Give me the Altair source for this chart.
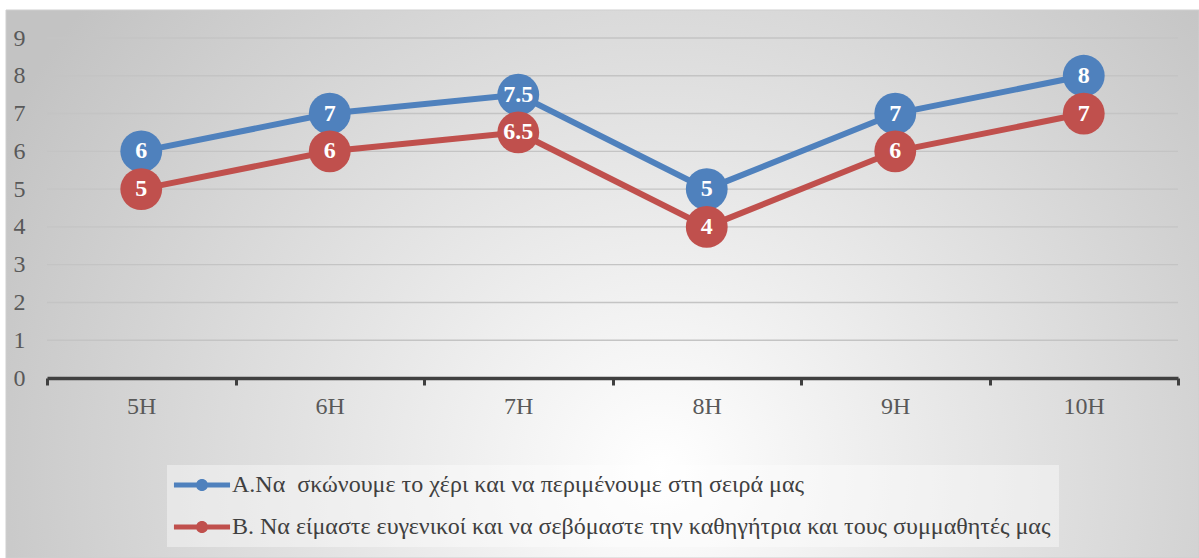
import altair as alt
import pandas as pd

# ---- data ----
categories = ["5H", "6H", "7H", "8H", "9H", "10H"]
series_names = [
    "A.Να\u00a0 σκώνουμε το χέρι και να περιμένουμε στη σειρά μας",
    "B. Να είμαστε ευγενικοί και να σεβόμαστε την καθηγήτρια και τους συμμαθητές μας",
]
values_a = [6, 7, 7.5, 5, 7, 8]
values_b = [5, 6, 6.5, 4, 6, 7]
y_ticks = [0, 1, 2, 3, 4, 5, 6, 7, 8, 9]
grid_values = [1, 2, 3, 4, 5, 6, 7, 8, 9]
series_colors = ["#4F81BD", "#C0504D"]

rows = []
for name, vals in zip(series_names, [values_a, values_b]):
    for cat, v in zip(categories, vals):
        rows.append({"class": cat, "series": name, "value": v})
df = pd.DataFrame(rows)

# ---- layout ----
W, H = 1131, 340
PAD_LEFT, PAD_TOP = 47, 38
FONT = "Liberation Serif"
LABEL_GREY = "#595959"

# legend glyph: a short thick line with a dot in the middle
LEGEND_GLYPH = (
    "M-2.55,-0.23H2.55V0.23H-2.55Z "
    "M0,-0.55A0.55,0.55 0 1,1 0,0.55A0.55,0.55 0 1,1 0,-0.55Z"
)

x_axis = alt.Axis(
    title=None, labelAngle=0, tickBand="extent", grid=False,
    domainColor="#404040", domainWidth=3.5,
    tickColor="#404040", tickWidth=3, tickSize=7,
    labelPadding=9, labelFont=FONT, labelFontSize=24, labelColor=LABEL_GREY,
    zindex=1,
)
y_axis = alt.Axis(
    title=None, values=y_ticks, grid=False, domain=False, ticks=False,
    labelPadding=22, labelFont=FONT, labelFontSize=24, labelColor=LABEL_GREY,
    zindex=1,
)
x_enc = alt.X(
    "class:N",
    sort=categories,
    scale=alt.Scale(type="band", paddingInner=0, paddingOuter=0),
    axis=x_axis,
)
y_scale = alt.Scale(domain=[0, 9], nice=False, zero=True)
y_enc = alt.Y("value:Q", scale=y_scale, axis=y_axis)

color_scale = alt.Scale(domain=series_names, range=series_colors)
legend = alt.Legend(
    title=None, orient="none", direction="vertical",
    legendX=120, legendY=427,
    fillColor="rgba(255,255,255,0.4)", padding=8,
    symbolType=LEGEND_GLYPH, symbolSize=484, symbolStrokeWidth=0,
    symbolOffset=15, labelOffset=18, rowPadding=18,
    labelFont=FONT, labelFontSize=24, labelColor="#404040",
    labelLimit=1000,
)
color_enc = alt.Color("series:N", scale=color_scale, legend=legend)

# soft radial backdrop behind the whole figure
backdrop = alt.Chart(pd.DataFrame({"k": [0]})).mark_rect(
    fill={
        "gradient": "radial",
        "x1": 0.548, "y1": 0.656, "r1": 0,
        "x2": 0.548, "y2": 0.656, "r2": 0.62,
        "stops": [
            {"offset": 0, "color": "#ffffff"},
            {"offset": 1, "color": "#c3c3c3"},
        ],
    },
    stroke="#cfcfcf",
    strokeWidth=1,
).encode(
    x=alt.value(-41), x2=alt.value(1152),
    y=alt.value(-28), y2=alt.value(520),
)

gridlines = alt.Chart(pd.DataFrame({"value": grid_values})).mark_rule(
    color="#c4c4c4", strokeWidth=1.4
).encode(y=y_enc)

base = alt.Chart(df)

lines = base.mark_line(strokeWidth=6).encode(x=x_enc, y=y_enc, color=color_enc)

dots = base.mark_circle(size=1750, opacity=1).encode(x=x_enc, y=y_enc, color=color_enc)

labels = base.mark_text(
    color="white", font=FONT, fontSize=24, fontWeight="bold",
    baseline="middle", align="center",
).encode(x=x_enc, y=y_enc, text=alt.Text("value:Q"))

chart = alt.layer(backdrop, gridlines, lines, dots, labels).properties(
    width=W,
    height=H,
    padding={"left": PAD_LEFT, "top": PAD_TOP, "right": 1199 - PAD_LEFT - W, "bottom": 558 - PAD_TOP - H},
    autosize=alt.AutoSizeParams(type="none"),
).configure(background="white").configure_view(stroke=None)

chart.save("out.html", embed_options={"renderer": "svg", "actions": False})
